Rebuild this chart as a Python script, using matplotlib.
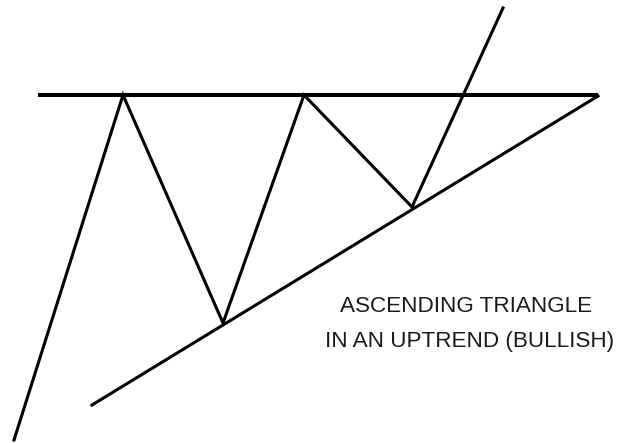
import matplotlib
matplotlib.use("Agg")
import matplotlib.pyplot as plt

# Price path (pixel-ish coordinates, y grows downward)
price_x = [14, 123, 223, 304, 412, 503]
price_y = [440, 95, 323, 95, 207, 8]

# Flat resistance line
resist_x = [38, 598]
resist_y = [95, 95]

# Rising support line
support_x = [92, 598]
support_y = [405, 96]

LABEL_LINES = ["ASCENDING TRIANGLE", "IN AN UPTREND (BULLISH)"]
LINE_COLOR = "black"
LW = 2.2

fig = plt.figure(figsize=(6.17, 4.43), dpi=100)
ax = fig.add_axes([0, 0, 1, 1])
ax.set_xlim(0, 617)
ax.set_ylim(443, 0)
ax.axis("off")

ax.plot(resist_x, resist_y, color=LINE_COLOR, linewidth=LW + 0.7, solid_capstyle="butt")
ax.plot(support_x, support_y, color=LINE_COLOR, linewidth=LW)
ax.plot(price_x, price_y, color=LINE_COLOR, linewidth=LW, solid_joinstyle="miter")

ax.text(466, 306.5, LABEL_LINES[0], ha="center", va="center",
        fontsize=16.2, family="Liberation Sans", color="#1a1a1a")
ax.text(470, 341, LABEL_LINES[1], ha="center", va="center",
        fontsize=16.2, family="Liberation Sans", color="#1a1a1a")

fig.savefig("out.png", dpi=100, facecolor="white")
